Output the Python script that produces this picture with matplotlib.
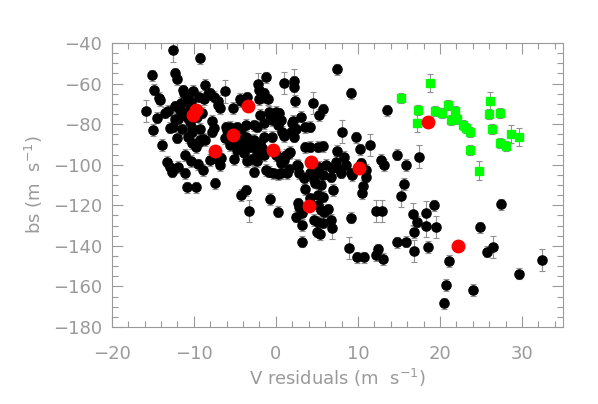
import matplotlib
matplotlib.use("Agg")
import matplotlib.pyplot as plt
from matplotlib.ticker import MultipleLocator
import numpy as np

# black points: V residuals (x), bs (y)
bx = [-12.6,-9.3,-15.1,-12.3,-12.0,-8.6,-14.9,-14.2,-14.1,-11.3,-11.2,-10.1,-8.3,-7.5,-7.1,-7.0,-8.8,-10.7,-10.4,-11.6,
      -10.5,-9.4,-15.8,-14.5,-13.5,-13.1,-12.3,-11.7,-11.5,-11.0,-10.5,-12.3,-11.9,-10.8,-9.9,-9.6,-9.0,-7.8,-7.5,-15.0,
      -12.9,-12.6,-11.5,-10.2,-9.2,-7.8,-12.0,-10.7,-8.9,-6.1,-6.0,-6.2,-4.4,-4.2,-3.5,-5.2,-6.8,-4.3,-3.6,-2.7,
      -2.3,-1.5,-0.7,0.6,0.2,2.0,2.2,0.8,1.0,-13.9,-10.2,-9.4,-4.7,-3.1,-2.3,-1.2,-2.2,-2.1,-1.5,-1.4,
      -2.0,-1.0,1.0,2.2,2.2,2.3,4.5,5.2,-8.0,-3.6,-1.9,-0.8,0.0,0.4,-0.5,0.0,3.0,2.5,4.1,1.8,
      -5.6,-4.7,-1.5,-0.5,-6.2,-3.7,7.4,9.2,5.8,13.5,2.1,3.6,8.0,9.8,11.5,3.5,4.1,5.7,7.4,10.2,
      8.3,7.3,8.5,12.8,13.2,14.8,15.8,17.5,1.6,1.0,2.6,1.4,2.8,3.4,5.3,6.1,5.7,6.7,6.9,7.7,
      7.9,10.4,11.0,9.3,11.0,0.6,4.8,5.5,9.1,10.6,10.5,7.0,15.6,15.3,3.6,4.2,5.1,5.7,2.7,2.8,
      2.5,3.2,5.1,5.5,5.9,6.3,4.6,5.1,5.7,6.7,6.9,3.2,5.0,5.4,3.2,9.1,12.2,12.9,8.9,9.9,
      10.8,12.2,12.4,13.0,14.8,15.9,16.7,17.2,18.3,18.3,16.8,19.3,19.5,16.8,18.5,21.1,20.7,20.5,24.0,24.9,
      25.7,26.5,27.5,29.6,32.4,-11.1,-10.4,-13.3,-12.9,-12.7,-11.9,-11.1,-9.5,-8.9,-10.8,-9.7,-7.4,-6.7,-6.9,-5.1,
      -3.5,-2.9,-2.3,-2.7,-4.3,-3.7,-3.3,-0.7,0.2,-1.2,-0.9,-0.4,0.2,0.6,0.7,1.6,1.7,1.2,2.7,-6.0,
      -5.2,-4.3,-3.5,-2.7,-1.9,-3.9,-2.3,-1.5,-4.5,-5.6,-4.7,-3.1,-1.7,0.0,0.4,-8.0,-6.8,5.1,4.2,4.6,
      5.1,-10.2,-9.2,-9.7,-8.6]
by = [-43.7,-47.6,-56.0,-55.0,-57.9,-60.6,-63.0,-67.1,-68.3,-63.4,-64.5,-63.7,-65.2,-66.5,-68.6,-70.6,-67.8,-67.3,-68.9,-69.4,
      -71.7,-66.5,-73.6,-76.8,-74.3,-73.4,-71.3,-73.0,-73.9,-76.0,-78.8,-77.3,-77.6,-76.3,-75.5,-76.3,-74.4,-78.4,-81.8,-82.9,
      -81.8,-81.3,-82.5,-82.1,-82.4,-83.7,-86.6,-86.3,-87.2,-81.6,-82.9,-63.9,-67.6,-68.7,-66.8,-72.1,-72.2,-82.5,-80.4,-80.6,
      -81.3,-79.6,-75.5,-78.0,-80.4,-79.6,-86.2,-83.7,-85.8,-90.2,-89.4,-88.7,-89.4,-87.8,-90.3,-56.9,-60.4,-63.4,-64.8,-66.8,
      -67.6,-67.8,-59.7,-58.5,-61.7,-68.6,-69.6,-75.5,-64.8,-68.6,-75.5,-73.9,-73.9,-74.7,-78.0,-76.6,-76.3,-82.5,-81.3,-83.7,
      -81.3,-81.6,-86.2,-86.2,-87.0,-86.2,-53.0,-64.8,-72.7,-73.2,-78.3,-81.6,-83.7,-86.5,-90.3,-91.4,-91.1,-90.9,-93.1,-92.4,
      -96.0,-98.5,-100.1,-97.7,-100.1,-95.1,-100.1,-96.0,-94.4,-97.7,-100.1,-104.2,-104.2,-106.7,-101.0,-100.1,-105.1,-105.9,-101.8,-102.3,
      -103.9,-99.3,-102.6,-105.1,-105.9,-104.2,-108.9,-110.0,-104.2,-110.5,-114.1,-112.5,-109.5,-115.3,-112.0,-116.6,-114.9,-115.8,-119.0,-120.8,
      -125.6,-123.9,-119.9,-122.3,-123.2,-122.0,-127.2,-128.1,-128.6,-127.2,-131.3,-129.7,-133.0,-134.1,-137.9,-126.1,-122.7,-122.7,-141.2,-145.6,
      -145.6,-144.5,-141.7,-146.5,-138.2,-137.9,-124.4,-128.1,-123.6,-130.2,-133.2,-120.0,-130.8,-142.5,-140.6,-147.5,-159.3,-168.3,-161.7,-130.8,
      -142.9,-140.4,-119.5,-153.7,-147.0,-95.2,-98.2,-98.5,-101.1,-103.4,-101.1,-104.2,-99.8,-102.6,-111.1,-111.1,-109.2,-96.8,-98.4,-97.2,
      -98.3,-97.3,-98.2,-103.4,-114.9,-112.7,-122.7,-116.9,-123.2,-102.6,-103.4,-104.2,-104.7,-99.3,-97.2,-102.3,-93.7,-95.2,-100.5,-86.2,
      -89.4,-87.8,-91.1,-87.8,-89.4,-94.4,-93.6,-95.2,-91.9,-90.3,-92.7,-91.1,-91.9,-95.2,-96.0,-97.7,-100.1,-91.1,-104.2,-107.5,
      -103.4,-83.7,-87.8,-91.4,-87.8]
# indices of black points with larger visible error bars
big_err_idx = [0,22,51,76,82,83,84,86,112,114,127,153,170,176,177,178,186,188,189,192,193,201,204,226]

# green squares
gx = [15.2,18.8,17.3,17.2,19.4,20.3,21.0,21.8,21.3,22.1,22.8,23.2,23.7,23.7,24.8,26.1,26.0,27.3,26.3,27.3,28.0,28.7,29.6]
gy = [-67.3,-59.9,-72.9,-79.4,-73.5,-74.4,-70.7,-73.5,-77.8,-77.3,-80.3,-81.9,-83.9,-92.7,-102.9,-68.6,-74.8,-74.6,-82.2,-89.3,-90.9,-85.0,-86.5]
g_big_err_idx = [1,3,14,15,21,22]

# red circles
rx = [-9.8,-10.1,-3.4,-5.2,-7.4,-0.4,4.3,10.1,18.5,4.0,22.2]
ry = [-73.0,-75.5,-71.1,-85.5,-93.1,-92.7,-98.9,-101.7,-78.8,-120.5,-140.3]

xticks = [-20, -10, 0, 10, 20, 30]
yticks = [-180, -160, -140, -120, -100, -80, -60, -40]

gray = '#9a9a9a'
fig = plt.figure(figsize=(5.98, 4.04), dpi=100)
ax = fig.add_axes([0.187, 0.1906, 0.7545, 0.703])

bx_a = np.array(bx); by_a = np.array(by)
berr = np.full(len(bx), 2.8)
berr[big_err_idx] = 5.5
ax.errorbar(bx_a, by_a, yerr=berr, fmt='none', ecolor='#909090', elinewidth=0.8, capsize=2.5, capthick=0.8, zorder=2)
ax.plot(bx_a, by_a, 'o', color='black', ms=6.6, mec='black', zorder=3)

gerr = np.full(len(gx), 2.5)
gerr[g_big_err_idx] = 4.5
ax.errorbar(gx, gy, yerr=gerr, fmt='none', ecolor='#909090', elinewidth=0.8, capsize=2.5, capthick=0.8, zorder=4)
ax.plot(gx, gy, 's', color='#00ff00', ms=6.0, mec='#00ff00', zorder=5)

ax.plot(rx, ry, 'o', color='#ff0000', ms=9, mec='#ff0000', zorder=6)

ax.set_xlim(-20, 35)
ax.set_ylim(-180, -40)
ax.set_xticks(xticks)
ax.set_yticks(yticks)
ax.xaxis.set_minor_locator(MultipleLocator(2))
ax.yaxis.set_minor_locator(MultipleLocator(5))
ax.tick_params(which='both', direction='in', top=True, right=True, color=gray, labelcolor=gray, labelsize=13, width=0.8)
ax.tick_params(which='major', length=8)
ax.tick_params(axis='x', which='major', pad=13)
ax.tick_params(axis='y', which='major', pad=7)
ax.tick_params(which='minor', length=4)
for s in ax.spines.values():
    s.set_color(gray)
    s.set_linewidth(0.8)
ax.set_xlabel('V residuals (m  s$^{-1}$)', color=gray, fontsize=13, labelpad=3)
ax.set_ylabel('bs (m  s$^{-1}$)', color=gray, fontsize=13, labelpad=6)

fig.savefig('out.png', dpi=100)
